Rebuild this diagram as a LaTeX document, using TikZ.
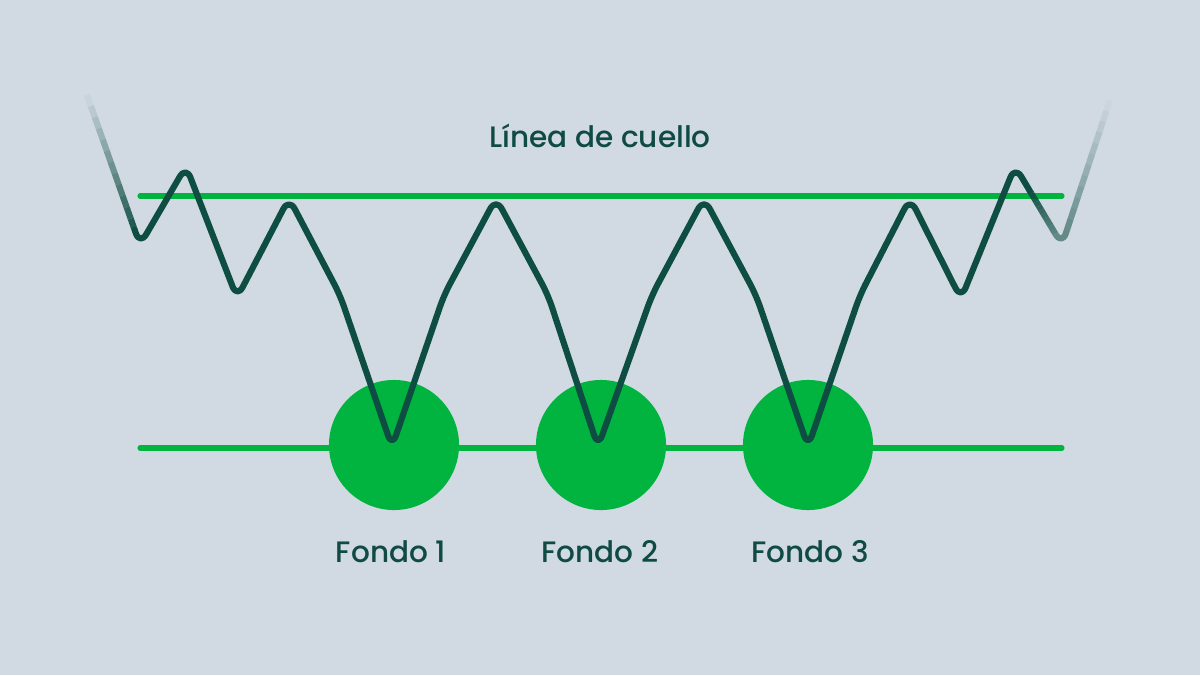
\documentclass[tikz,border=0pt]{standalone}
\usepackage{fontspec}
\setmainfont{Poppins}[UprightFont={* Medium}]
\usetikzlibrary{positioning,calc}
\definecolor{bgcol}{HTML}{D1D9E2}
\definecolor{fondogreen}{HTML}{00B43F}
\definecolor{pricecol}{HTML}{0E4D41}
\definecolor{labelcol}{HTML}{0F4A44}
\tikzset{
    neckline/.style={draw=fondogreen, line width=1.45pt, line cap=round},
    priceline/.style={draw=pricecol, line width=1.75pt, line cap=round, line join=round, rounded corners=3.5pt},
    pricefade/.style={priceline, line cap=butt},
    fondodot/.style={circle, fill=fondogreen, minimum size=1.3cm, inner sep=0pt},
    chartlabel/.style={text=labelcol, font=\fontsize{8.4}{10}\selectfont, anchor=base, inner sep=0pt}
}

\begin{document}
\begin{tikzpicture}[x=0.01cm, y=-0.01cm]
    \fill[bgcol] (0,0) rectangle (1200,675);

    % neckline and support
    \coordinate (neckL) at (140,196);
    \coordinate (neckR) at (1062,196);
    \coordinate (baseL) at (140,448);
    \coordinate (baseR) at (1062,448);
    \draw[neckline] (neckL) -- (neckR);
    \draw[neckline] (baseL) -- (baseR);

    % bottoms
    \node[fondodot] (fondo1) at (394,445) {};
    \node[fondodot] (fondo2) at (601,445) {};
    \node[fondodot] (fondo3) at (808,445) {};

    % price
    \coordinate (startL) at (87,95);
    \coordinate (troughL) at (140,245);
    \coordinate (peakR) at (1015,166);
    \coordinate (troughR) at (1062,245);
    \coordinate (endR) at (1110,100);
    % fading in on the left
    \foreach \i in {0,...,11} {
        \pgfmathsetmacro\ta{\i*0.075}
        \pgfmathsetmacro\tb{\ta+0.075}
        \pgfmathsetmacro\op{min(1,1.05*(\ta+0.0375))}
        \draw[pricefade, draw opacity=\op] ($(startL)!\ta!(troughL)$) -- ($(startL)!\tb!(troughL)$);
    }
    \draw[priceline] ($(startL)!0.9!(troughL)$) -- (troughL) -- (186,166) -- (237,298) -- (289,198)
        -- (340,295) -- (392,447) -- (444,295) -- (496,198) -- (548,295) -- (598,447) -- (652,295)
        -- (704,198) -- (756,295) -- (808,447) -- (860,295) -- (910,198) -- (961,299) -- (peakR)
        -- ($(peakR)!0.3!(troughR)$);
    % fading out on the right
    \foreach \i in {0,...,10} {
        \pgfmathsetmacro\ta{0.3+\i*0.05}
        \pgfmathsetmacro\tb{\ta+0.05}
        \pgfmathsetmacro\op{1-0.45*(\ta+0.025-0.3)/0.6}
        \draw[pricefade, draw opacity=\op] ($(peakR)!\ta!(troughR)$) -- ($(peakR)!\tb!(troughR)$);
    }
    \draw[pricefade, draw opacity=0.56] ($(peakR)!0.85!(troughR)$) -- (troughR) -- ($(troughR)!0.1!(endR)$);
    \foreach \i in {0,...,11} {
        \pgfmathsetmacro\ta{0.1+\i*0.075}
        \pgfmathsetmacro\tb{\ta+0.075}
        \pgfmathsetmacro\op{0.56*(1-\ta-0.0375)/0.9}
        \draw[pricefade, draw opacity=\op] ($(troughR)!\ta!(endR)$) -- ($(troughR)!\tb!(endR)$);
    }

    % labels
    \node[chartlabel] (necklabel) at (600,147) {Línea de cuello};
    \node[chartlabel] (label1) at (391,562) {Fondo 1};
    \node[chartlabel] (label2) at (600,562) {Fondo 2};
    \node[chartlabel] (label3) at (810,562) {Fondo 3};
\end{tikzpicture}
\end{document}
